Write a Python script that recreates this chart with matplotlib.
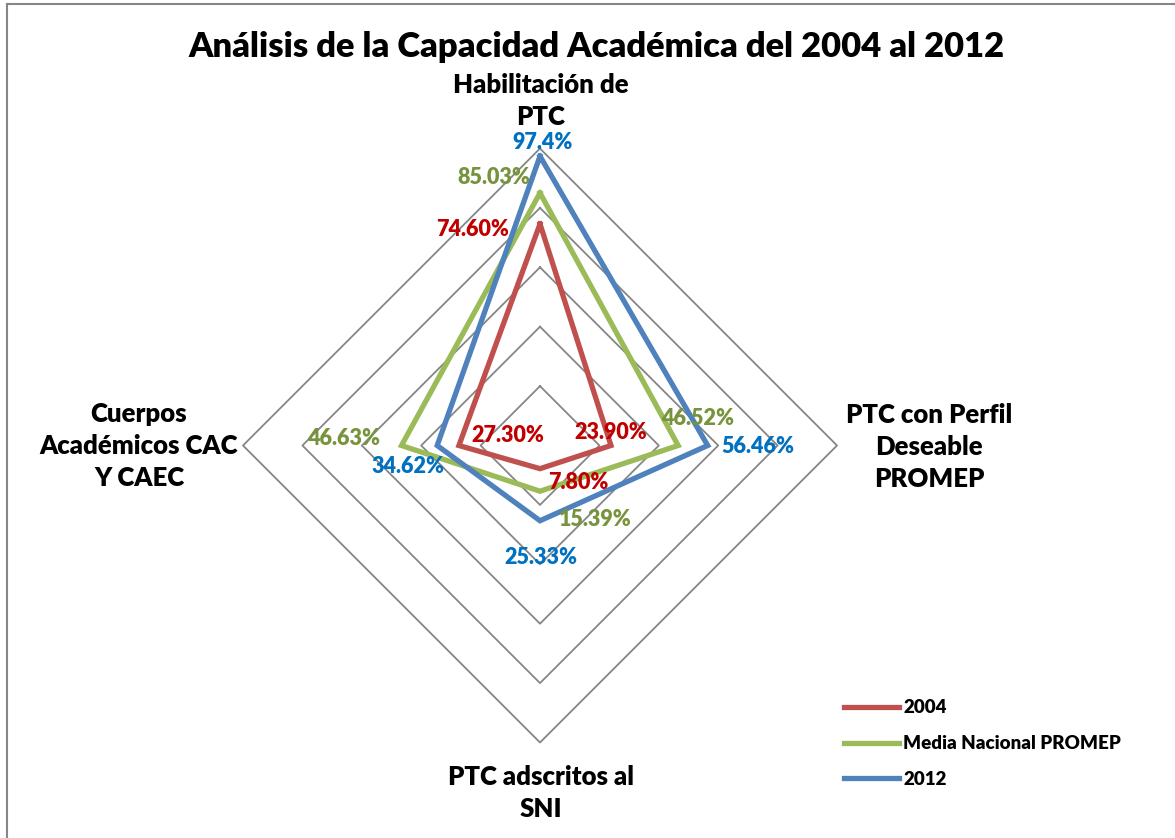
import numpy as np
import matplotlib
matplotlib.use("Agg")
import matplotlib.pyplot as plt

categories = ["Habilitación de\nPTC", "PTC con Perfil\nDeseable\nPROMEP",
              "PTC adscritos al\nSNI", "Cuerpos\nAcadémicos CAC\nY CAEC"]
series_names = ["2004", "Media Nacional PROMEP", "2012"]
v2004 = [74.60, 23.90, 7.80, 27.30]
vmedia = [85.03, 46.52, 15.39, 46.63]
v2012 = [97.4, 56.46, 25.33, 34.62]
label_texts = {
    "2004": ["74.60%", "23.90%", "7.80%", "27.30%"],
    "Media Nacional PROMEP": ["85.03%", "46.52%", "15.39%", "46.63%"],
    "2012": ["97.4%", "56.46%", "25.33%", "34.62%"],
}
grid_levels = [20, 40, 60, 80, 100]

line_colors = {"2004": "#C0504D", "Media Nacional PROMEP": "#9BBB59", "2012": "#4F81BD"}
text_colors = {"2004": "#C00000", "Media Nacional PROMEP": "#77933C", "2012": "#0070C0"}
# label offsets (pixels) relative to each point
offsets = {
    "2004": [(-67, -6), (0, 13), (38, -14), (49, 10)],
    "Media Nacional PROMEP": [(-46, 15), (19, 27), (55, -28), (-58, 7)],
    "2012": [(3, 14), (50, -1), (1, -37), (-29, -21)],
}
cat_offsets = [(1, 48), (92, -1), (1, -50), (-104, 0)]

FONT = ["Lato", "DejaVu Sans"]
WEIGHT = "heavy"
W, H = 1175, 838
fig = plt.figure(figsize=(W / 100, H / 100), dpi=100)
cx, cy, R = 540, 838 - 445.5, 297
ax = fig.add_axes([(cx - R) / W, (cy - R) / H, 2 * R / W, 2 * R / H], projection="polar")
ax.set_theta_zero_location("N")
ax.set_theta_direction(-1)
ax.set_ylim(0, 100)
ax.grid(False)
ax.spines["polar"].set_visible(False)
ax.set_xticks([])
ax.set_yticks([])
ax.patch.set_alpha(0)

n = len(categories)
theta = np.linspace(0, 2 * np.pi, n, endpoint=False)
tc = np.concatenate([theta, theta[:1]])
for g in grid_levels:
    ax.plot(tc, [g] * (n + 1), color="#868686", lw=1.3, zorder=1, clip_on=False)

series = {"2004": v2004, "Media Nacional PROMEP": vmedia, "2012": v2012}
handles = []
for name in series_names:
    vals = series[name]
    h, = ax.plot(tc, list(vals) + [vals[0]], color=line_colors[name], lw=3.8,
                 solid_joinstyle="miter", zorder=3, clip_on=False, label=name)
    handles.append(h)
    for i, v in enumerate(vals):
        dx, dy = offsets[name][i]
        ax.annotate(label_texts[name][i], (theta[i], v), xytext=(dx, dy),
                    textcoords="offset pixels", ha="center", va="center",
                    color=text_colors[name], fontsize=15.5, fontweight=WEIGHT,
                    family=FONT, zorder=5, annotation_clip=False)

for i, c in enumerate(categories):
    dx, dy = cat_offsets[i]
    ax.annotate(c, (theta[i], 100), xytext=(dx, dy), textcoords="offset pixels",
                ha="center", va="center", fontsize=18.5, fontweight=WEIGHT,
                family=FONT, linespacing=1.4, annotation_clip=False)

fig.text(596 / W, 1 - 47 / H, "Análisis de la Capacidad Académica del 2004 al 2012",
         ha="center", va="center", fontsize=24.8, fontweight=WEIGHT, family=FONT)

leg = fig.legend(handles=handles, labels=series_names, loc="upper left",
                 bbox_to_anchor=(835 / W, 1 - 690 / H), frameon=False,
                 prop={"family": FONT, "weight": WEIGHT, "size": 13.5},
                 handlelength=2.9, labelspacing=1.0, handletextpad=0.25,
                 borderpad=0)
for l in leg.get_lines():
    l.set_linewidth(3.8)

# chart frame (left and top edges visible)
fig.add_artist(plt.Line2D([6.5 / W, 6.5 / W], [0, 1 - 4.5 / H], transform=fig.transFigure,
                          color="#868686", lw=1.5))
fig.add_artist(plt.Line2D([6.5 / W, 1], [1 - 4.5 / H, 1 - 4.5 / H], transform=fig.transFigure,
                          color="#868686", lw=1.5))

fig.savefig("out.png", dpi=100, facecolor="white")
